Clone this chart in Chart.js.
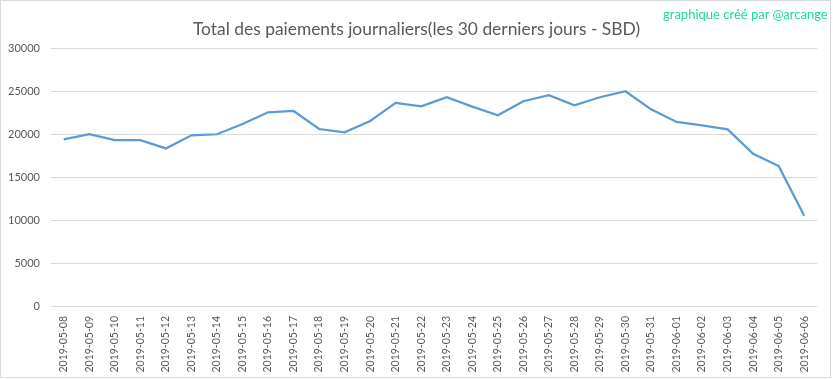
<!DOCTYPE html>
<html>
<head>
<meta charset="utf-8">
<script src="https://cdn.jsdelivr.net/npm/chart.js@4/dist/chart.umd.min.js"></script>
<style>
  html, body { margin: 0; padding: 0; background: #fff; }
  #wrap { position: relative; width: 833px; height: 379px; }
  #frame { position: absolute; left: 0; top: 0; width: 831px; height: 378px; box-sizing: border-box; border: 1px solid #d9d9d9; pointer-events: none; }
  #mark { position: absolute; left: 663px; top: 6px; font-family: Lato, sans-serif; font-size: 13px; color: #1ad9a2; white-space: nowrap; }
</style>
</head>
<body>
<div id="wrap">
  <canvas id="c" width="833" height="379"></canvas>
  <div id="frame"></div>
  <div id="mark">graphique créé par @arcange</div>
</div>
<script>
const titleText = "Total des paiements journaliers(les 30 derniers jours - SBD)";
const dates = [
  "2019-05-08","2019-05-09","2019-05-10","2019-05-11","2019-05-12","2019-05-13","2019-05-14",
  "2019-05-15","2019-05-16","2019-05-17","2019-05-18","2019-05-19","2019-05-20","2019-05-21",
  "2019-05-22","2019-05-23","2019-05-24","2019-05-25","2019-05-26","2019-05-27","2019-05-28",
  "2019-05-29","2019-05-30","2019-05-31","2019-06-01","2019-06-02","2019-06-03","2019-06-04",
  "2019-06-05","2019-06-06"
];
const payments = [
  19400, 20000, 19320, 19320, 18350, 19870, 20000,
  21200, 22560, 22710, 20610, 20220, 21550, 23650,
  23260, 24310, 23220, 22210, 23840, 24550, 23380,
  24310, 25010, 22900, 21430, 21040, 20570, 17730,
  16290, 10520
];
const yTicks = [0, 5000, 10000, 15000, 20000, 25000, 30000];

const textColor = "#595959";
const fontFamily = "Lato, 'Liberation Sans', sans-serif";

new Chart(document.getElementById("c"), {
  type: "line",
  data: {
    labels: dates,
    datasets: [{
      data: payments,
      yAxisID: "y",
      borderColor: "#5b9bd5",
      backgroundColor: "#5b9bd5",
      borderWidth: 2.25,
      pointRadius: 0,
      tension: 0,
      fill: false
    }]
  },
  options: {
    responsive: false,
    animation: false,
    layout: { padding: 0 },
    plugins: {
      legend: { display: false },
      tooltip: { enabled: false },
      title: {
        display: true,
        text: titleText,
        color: textColor,
        font: { family: fontFamily, size: 17.4, weight: "normal" },
        padding: { top: 19, bottom: 8.5 }
      }
    },
    scales: {
      x: {
        offset: true,
        grid: { display: false },
        border: { display: false },
        ticks: {
          color: textColor,
          font: { family: fontFamily, size: 10.5 },
          minRotation: 90,
          maxRotation: 90,
          autoSkip: false,
          padding: 2
        },
        afterFit: (s) => { s.height = 73; }
      },
      y: {
        min: 0,
        max: 30000,
        afterBuildTicks: (s) => { s.ticks = yTicks.map(v => ({ value: v })); },
        grid: { color: "#d9d9d9", lineWidth: 1, drawTicks: false },
        border: { display: false },
        ticks: {
          color: textColor,
          font: { family: fontFamily, size: 11 },
          padding: 11,
          callback: (v) => String(v)
        },
        afterFit: (s) => { s.width = 51; }
      },
      yRightSpace: {
        position: "right",
        display: true,
        min: 0,
        max: 30000,
        grid: { display: false },
        border: { display: false },
        ticks: { display: false },
        afterFit: (s) => { s.width = 16; }
      }
    }
  }
});
</script>
</body>
</html>
